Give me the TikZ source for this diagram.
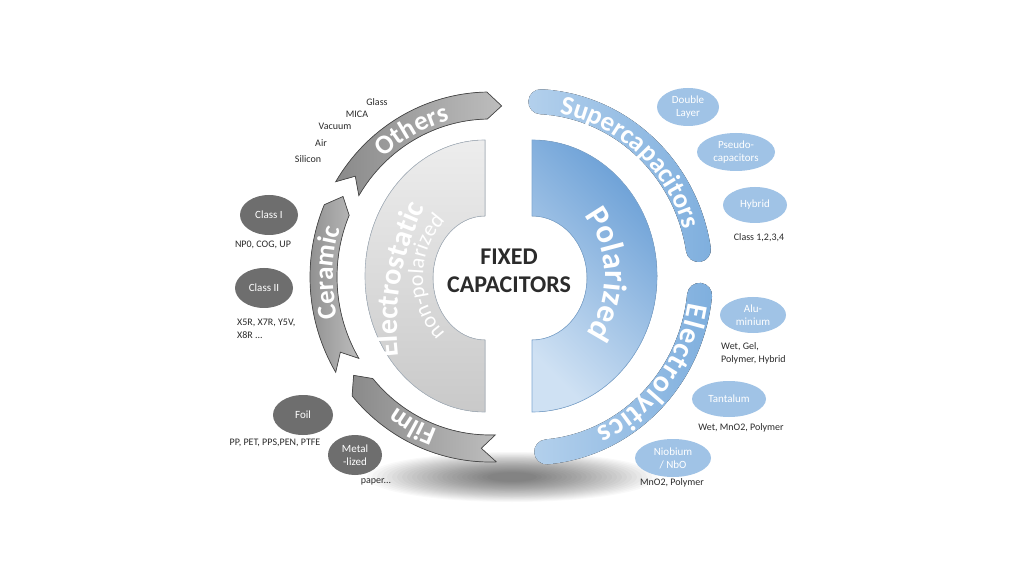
\documentclass[tikz,border=0pt]{standalone}
\usepackage{fontspec}
\setmainfont{Carlito}
\usetikzlibrary{shapes.geometric,decorations.text}
\definecolor{ellgray}{HTML}{6E6E6E}
\definecolor{ellblue}{HTML}{A0C3E6}
\definecolor{txtdark}{HTML}{2B2B2B}
\definecolor{arrowlight}{HTML}{BDBDBD}
\definecolor{arrowdark}{HTML}{8A8A8A}
\definecolor{arrowedge}{HTML}{4A4A4A}
\definecolor{halfgraylight}{HTML}{EDEDED}
\definecolor{halfgraydark}{HTML}{C9C9C9}
\definecolor{halfgrayedge}{HTML}{A9B4BF}
\definecolor{bluelight}{HTML}{CFE1F3}
\definecolor{bluedark}{HTML}{6A9FD6}
\definecolor{blueedge}{HTML}{7FA8D2}
\definecolor{bandlight}{HTML}{B3D0EC}
\definecolor{banddark}{HTML}{7FAFDE}
\newcommand{\ringfont}{\fontsize{27}{27}\selectfont\bfseries}
\newcommand{\bigringfont}{\fontsize{30}{30}\selectfont\bfseries}
\newcommand{\polfont}{\fontsize{33}{33}\selectfont\bfseries}
\newcommand{\estfont}{\fontsize{30}{30}\selectfont\bfseries}
\newcommand{\npfont}{\fontsize{22}{22}\selectfont}
\newcommand{\grayarrow}[2]{%
  \filldraw[arrowband] ({490+180*cos(#1)},{299+185*sin(#1)})
    arc[start angle=#1,end angle=#2,x radius=180pt,y radius=185pt]
    -- ({490+166.5*cos(#2-5)},{299+171.5*sin(#2-5)})
    -- ({490+153*cos(#2)},{299+158*sin(#2)})
    arc[start angle=#2,end angle=#1,x radius=153pt,y radius=158pt]
    -- ({490+166.5*cos(#1-5)},{299+171.5*sin(#1-5)}) -- cycle;}
\newcommand{\blueband}[2]{%
  \fill[bandfill] ({532+181*cos(#1)},{299+188*sin(#1)})
    arc[start angle=#1,end angle=#2,x radius=181pt,y radius=188pt]
    arc[start angle=#2,end angle={#2-180},radius=12.5pt]
    arc[start angle=#2,end angle=#1,x radius=156pt,y radius=163pt]
    arc[start angle={#1+180},end angle=#1,radius=12.5pt] -- cycle;}
\begin{document}
\begin{tikzpicture}[x=1pt,y=1pt,
  grayell/.style={ellipse, fill=ellgray, text=white, inner sep=0pt, align=center, font=\fontsize{11}{13}\selectfont},
  blueell/.style={ellipse, fill=ellblue, text=white, inner sep=0pt, align=center, font=\fontsize{11}{13}\selectfont},
  smalltxt/.style={text=txtdark, inner sep=0pt, align=left, font=\fontsize{10}{13}\selectfont},
  arrowband/.style={draw=arrowedge, line width=0.7pt, left color=arrowdark, right color=arrowlight},
  bandfill/.style={left color=bandlight, right color=banddark},
  ringtext/.style={decorate, decoration={text along path, text color=white, text align=center, text={#1}}},
  fittext/.style={decorate, decoration={text along path, text color=white, text align={fit to path}, text={#1}}}
]
\fill[white] (0,0) rectangle (1024,576);
\useasboundingbox (0,0) rectangle (1024,576);
% soft shadow
\foreach \i [evaluate=\i as \rx using 145-5*\i, evaluate=\i as \ry using 25-0.85*\i] in {0,...,24}
  \fill[black, opacity=0.022] (512,99) ellipse [x radius=\rx pt, y radius=\ry pt];
% inner halves
\filldraw[draw=halfgrayedge, line width=0.6pt, top color=halfgraylight, bottom color=halfgraydark]
  (485,436) arc[start angle=90,end angle=270,x radius=120pt,y radius=136pt]
  -- (485,236) arc[start angle=270,end angle=90,x radius=52pt,y radius=62pt] -- cycle;
\filldraw[draw=blueedge, line width=0.6pt, top color=bluedark, bottom color=bluelight, shading angle=-45]
  (532,436) arc[start angle=90,end angle=-90,x radius=125pt,y radius=136pt]
  -- (532,236) arc[start angle=-90,end angle=90,x radius=55pt,y radius=62pt] -- cycle;
% gray ring arrows
\grayarrow{149}{91}
\grayarrow{211}{157}
\grayarrow{272}{220}
% blue ring bands
\blueband{87}{9}
\blueband{-6}{-85}
% ring texts
\path[ringtext={|\ringfont|Others}] ({490+157*cos(150)},{299+162*sin(150)}) arc[start angle=150,end angle=87,x radius=157pt,y radius=162pt];
\path[ringtext={|\ringfont|Ceramic}] ({490+157*cos(208)},{299+162*sin(208)}) arc[start angle=208,end angle=149,x radius=157pt,y radius=162pt];
\path[ringtext={|\ringfont|Film}] ({490+157*cos(272)},{299+162*sin(272)}) arc[start angle=272,end angle=212,x radius=157pt,y radius=162pt];
\path[ringtext={|\ringfont|Supercapacitors}] ({532+158*cos(92)},{299+166*sin(92)}) arc[start angle=92,end angle=5,x radius=158pt,y radius=166pt];
\path[fittext={|\bigringfont|Electrolytics}] ({532+158*cos(-9)},{299+166*sin(-9)}) arc[start angle=-9,end angle=-66,x radius=158pt,y radius=166pt];
\path[ringtext={|\estfont|Electrostatic}] ({663+266*cos(195)},{250+266*sin(195)}) arc[start angle=195,end angle=145,radius=266pt];
\path[ringtext={|\npfont|non-polarized}] ({505+82*cos(230)},{299+82*sin(230)}) arc[start angle=230,end angle=130,radius=82pt];
\path[ringtext={|\polfont|Polarized}] ({505+100*cos(50)},{300+100*sin(50)}) arc[start angle=50,end angle=-48,radius=100pt];
% centre title
\node[text=txtdark, align=center, font=\fontsize{24}{28}\selectfont\bfseries] (title) at (509,305) {FIXED\\CAPACITORS};
% left labels
\node[smalltxt] (glass) at (377,474) {Glass};
\node[smalltxt] (mica) at (357,462) {MICA};
\node[smalltxt] (vacuum) at (335,450) {Vacuum};
\node[smalltxt] (air) at (321,433) {Air};
\node[smalltxt] (silicon) at (308,417) {Silicon};
\node[grayell, minimum width=58pt, minimum height=40pt] (class1) at (269,361) {Class I};
\node[smalltxt] (np0) at (263,331) {NP0, COG, UP};
\node[grayell, minimum width=58pt, minimum height=40pt] (class2) at (264,288) {Class II};
\node[smalltxt, anchor=west] (x5r) at (237,247.5) {X5R, X7R, Y5V,\\X8R ...};
\node[grayell, minimum width=60pt, minimum height=40pt] (foil) at (303,161) {Foil};
\node[smalltxt] (pp) at (275,133) {PP, PET, PPS,PEN, PTFE};
\node[grayell, minimum width=54pt, minimum height=40pt] (metal) at (355,121) {Metal\\-lized};
\node[smalltxt] (paper) at (376,94) {paper...};
% right labels
\node[blueell, minimum width=62pt, minimum height=38pt] (double) at (688,469) {Double\\Layer};
\node[blueell, minimum width=78pt, minimum height=38pt] (pseudo) at (736,424) {Pseudo-\\capacitors};
\node[blueell, minimum width=64pt, minimum height=36pt] (hybrid) at (755,371) {Hybrid};
\node[smalltxt] (class1234) at (759,338) {Class 1,2,3,4};
\node[blueell, minimum width=66pt, minimum height=36pt] (alu) at (753,261) {Alu-\\minium};
\node[smalltxt, anchor=west] (wetgel) at (721,222.5) {Wet, Gel,\\Polymer, Hybrid};
\node[blueell, minimum width=74pt, minimum height=36pt] (tantalum) at (729,177) {Tantalum};
\node[smalltxt] (wetmno) at (741,148) {Wet, MnO2, Polymer};
\node[blueell, minimum width=76pt, minimum height=38pt] (niobium) at (673,118) {Niobium\\/ NbO};
\node[smalltxt] (mnopoly) at (672,93) {MnO2, Polymer};
\end{tikzpicture}
\end{document}
